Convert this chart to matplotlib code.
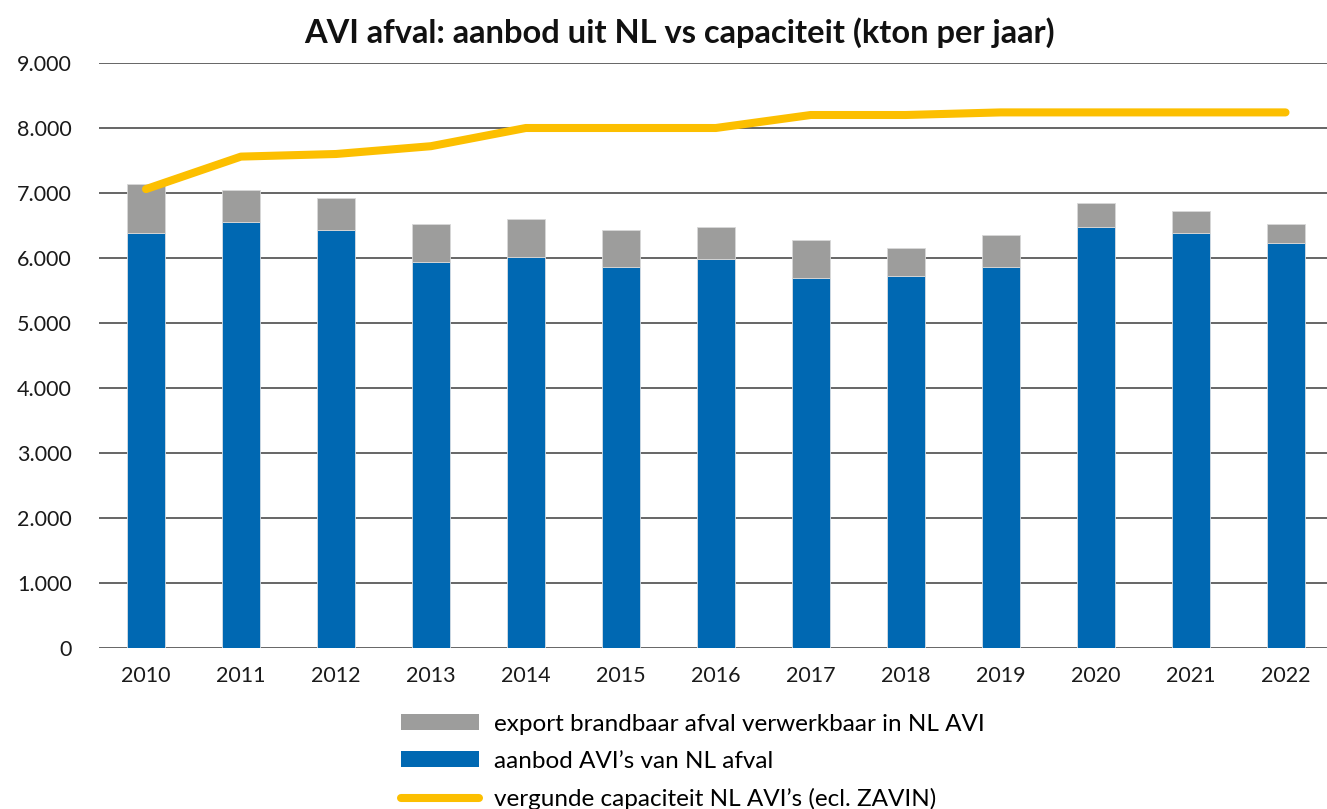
import numpy as np
import matplotlib.pyplot as plt
from matplotlib.patches import Patch
from matplotlib.lines import Line2D

plt.rcParams['font.family'] = ['Lato', 'DejaVu Sans']

# data (kton per jaar)
jaren = ['2010', '2011', '2012', '2013', '2014', '2015', '2016',
         '2017', '2018', '2019', '2020', '2021', '2022']
aanbod_nl = [6390, 6560, 6435, 5945, 6020, 5857, 5980,
             5700, 5730, 5857, 6477, 6390, 6226]
totaal = [7138, 7050, 6930, 6518, 6600, 6435, 6477,
          6272, 6150, 6354, 6846, 6723, 6518]
export = [t - a for t, a in zip(totaal, aanbod_nl)]
capaciteit = [7060, 7560, 7600, 7720, 8000, 8000, 8000,
              8200, 8200, 8240, 8240, 8240, 8240]

BLAUW = '#0068b2'
GRIJS = '#9d9d9c'
GEEL = '#fcbf00'

fig = plt.figure(figsize=(13.27, 8.09), dpi=100)
ax = fig.add_axes([98.5 / 1327, 1 - 648 / 809, (1333 - 98.5) / 1327, (648 - 63) / 809])

x = np.arange(len(jaren))
ax.bar(x, aanbod_nl, width=0.4, color=BLAUW, edgecolor='#d8dde3', linewidth=0.6, zorder=3)
ax.bar(x, export, bottom=aanbod_nl, width=0.4, color=GRIJS, edgecolor='#d8d8d8', linewidth=0.6, zorder=3)
ax.plot(x, capaciteit, color=GEEL, lw=5.8, solid_capstyle='round', solid_joinstyle='round', zorder=4)

ax.set_xlim(-0.5, len(jaren) - 0.5)
ax.set_ylim(0, 9000)
ax.set_yticks(range(0, 9001, 1000))
ax.set_yticklabels(['0' if v == 0 else f'{v // 1000}.000' for v in range(0, 9001, 1000)])
ax.set_xticks(x)
ax.set_xticklabels(jaren)
ax.tick_params(axis='both', length=0, labelsize=15.5, colors='#1a1a1a')
ax.tick_params(axis='y', pad=19)
ax.tick_params(axis='x', pad=13)
ax.grid(axis='y', color='#3c3c3c', lw=1.1, zorder=0)
ax.set_axisbelow(True)
for s in ax.spines.values():
    s.set_visible(False)

fig.text(0.512, 1 - 33 / 809, 'AVI afval: aanbod uit NL vs capaciteit (kton per jaar)',
         ha='center', va='center', fontsize=23.5, fontweight='bold', color='#111111')

handles = [Patch(facecolor=GRIJS, edgecolor='none'),
           Patch(facecolor=BLAUW, edgecolor='none'),
           Line2D([0], [0], color=GEEL, lw=5.8, solid_capstyle='round')]
labels = ['export brandbaar afval verwerkbaar in NL AVI',
          "aanbod AVI’s van NL afval",
          "vergunde capaciteit NL AVI’s (ecl. ZAVIN)"]
fig.legend(handles, labels, loc='upper left', bbox_to_anchor=(391 / 1327, 1 - 704 / 809),
           frameon=False, fontsize=17.5, handlelength=3.2, handleheight=0.6,
           handletextpad=0.62, labelspacing=0.66, borderaxespad=0)

fig.savefig('out.png', dpi=100)
